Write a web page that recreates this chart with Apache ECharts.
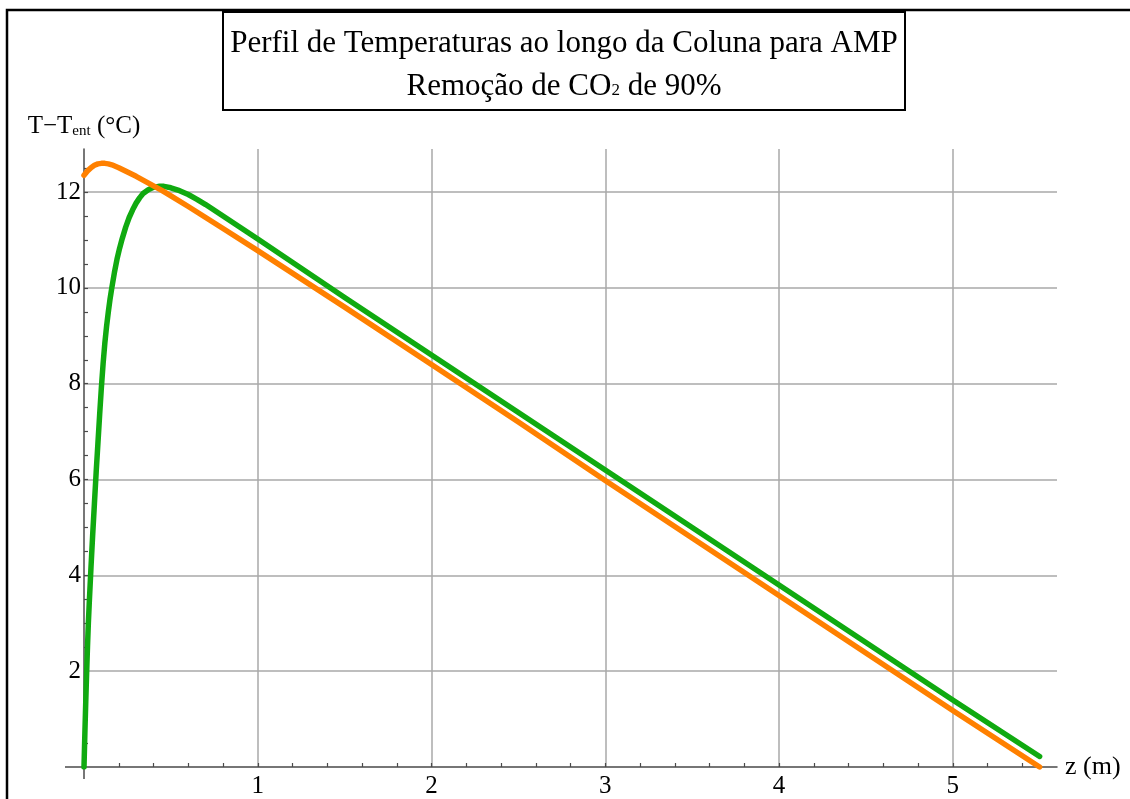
<!DOCTYPE html>
<html>
<head>
<meta charset="utf-8">
<script src="https://cdn.jsdelivr.net/npm/echarts@6/dist/echarts.min.js"></script>
<style>
html,body{margin:0;padding:0;background:#fff;}
#chart{width:1130px;height:799px;}
</style>
</head>
<body>
<div id="chart"></div>
<script>
// Data
const zGreen = [0, 0.005, 0.01, 0.015, 0.02, 0.025, 0.03, 0.04, 0.05, 0.06, 0.07, 0.08, 0.09, 0.10, 0.11, 0.12, 0.13, 0.14, 0.15, 0.16, 0.175, 0.19, 0.205, 0.22, 0.24, 0.26, 0.28, 0.30, 0.32, 0.34, 0.37, 0.40, 0.43, 0.46, 0.50, 0.55, 0.60, 0.65, 0.70, 0.75, 0.80, 0.90, 1.0, 1.5, 2.0, 2.5, 3.0, 3.5, 4.0, 4.5, 5.0, 5.5];
const tGreen = [0, 0.7, 1.35, 1.95, 2.5, 3.0, 3.4, 4.15, 4.85, 5.5, 6.15, 6.75, 7.35, 7.92, 8.42, 8.85, 9.2, 9.5, 9.77, 10.0, 10.32, 10.6, 10.83, 11.03, 11.27, 11.47, 11.63, 11.77, 11.88, 11.97, 12.05, 12.1, 12.12, 12.12, 12.09, 12.03, 11.95, 11.85, 11.74, 11.62, 11.5, 11.26, 11.02, 9.8, 8.6, 7.4, 6.2, 5.0, 3.8, 2.6, 1.4, 0.22];
const zOrange = [0, 0.02, 0.04, 0.06, 0.08, 0.10, 0.12, 0.14, 0.16, 0.18, 0.20, 0.25, 0.30, 0.35, 0.40, 0.45, 0.50, 0.60, 0.70, 0.80, 1.0, 1.5, 2.0, 2.5, 3.0, 3.5, 4.0, 4.5, 5.0, 5.5];
const tOrange = [12.35, 12.44, 12.51, 12.56, 12.59, 12.6, 12.6, 12.59, 12.57, 12.54, 12.51, 12.42, 12.33, 12.23, 12.13, 12.03, 11.92, 11.7, 11.47, 11.24, 10.78, 9.6, 8.4, 7.2, 5.98, 4.78, 3.58, 2.38, 1.18, 0.0];
const xTickLabels = ['1', '2', '3', '4', '5'];
const yTickLabels = ['2', '4', '6', '8', '10', '12'];
const titleLine1 = 'Perfil de Temperaturas ao longo da Coluna para AMP';
const titleLine2 = 'Remoção de CO{s|2} de 90%';
const yName = 'T−T{sub|ent} (°C)';
const xName = 'z (m)';

const FONT = '"Liberation Serif", "DejaVu Serif", serif';
const AXC = '#4a4a4a';
const X_MAX = 5.6, Y_MAX = 12.9;

// minor tick positions (every 0.2 on x, every 0.5 on y)
const xMinor = [], yMinor = [];
for (let i = 1; i <= 27; i++) xMinor.push(+(i * 0.2).toFixed(2));
for (let i = 1; i <= 25; i++) yMinor.push(i * 0.5);

const chart = echarts.init(document.getElementById('chart'), null, {renderer: 'canvas'});

const option = {
  backgroundColor: '#fff',
  animation: false,
  title: {
    text: titleLine1 + '\n' + titleLine2,
    left: 557,
    top: 12,
    textAlign: 'center',
    borderColor: '#000',
    borderWidth: 2,
    padding: [10, 7, 2, 7],
    textStyle: {
      fontFamily: FONT, fontSize: 31, fontWeight: 'normal', color: '#000', lineHeight: 43,
      rich: { s: { fontFamily: FONT, fontSize: 17, color: '#000', padding: [9, 0, 0, 0] } }
    }
  },
  grid: { left: 84, right: 73, top: 149, bottom: 29, containLabel: false },
  xAxis: [{
    type: 'value', min: 0, max: X_MAX, interval: 1, position: 'bottom',
    name: xName, nameLocation: 'end', nameGap: 8,
    nameTextStyle: { fontFamily: FONT, fontSize: 26, color: '#000', verticalAlign: 'middle', align: 'left' },
    axisLine: { show: true, onZero: false, lineStyle: { color: AXC, width: 1.5 } },
    axisTick: { show: false },
    axisLabel: {
      fontFamily: FONT, fontSize: 25, color: '#000', margin: 7,
      showMinLabel: false, showMaxLabel: false,
      formatter: v => (Number.isInteger(v) && v >= 1 && v <= 5 ? xTickLabels[v - 1] : '')
    },
    splitLine: { show: true, showMinLine: false, showMaxLine: false, lineStyle: { color: '#a8a8a8', width: 1.5 } }
  }, {
    type: 'value', min: 0, max: X_MAX, position: 'bottom', offset: 0,
    axisLine: { show: false },
    axisTick: { show: true, inside: true, length: 4, customValues: xMinor, lineStyle: { color: AXC, width: 1.2 } },
    axisLabel: { show: false },
    splitLine: { show: false }
  }],
  yAxis: [{
    type: 'value', min: 0, max: Y_MAX, interval: 2, position: 'left',
    name: yName, nameLocation: 'end', nameGap: 10,
    nameTextStyle: {
      fontFamily: FONT, fontSize: 25, color: '#000', align: 'center',
      rich: { sub: { fontFamily: FONT, fontSize: 15, color: '#000', padding: [9, 0, 0, 0] } }
    },
    axisLine: { show: true, onZero: false, lineStyle: { color: AXC, width: 1.5 } },
    axisTick: { show: false },
    axisLabel: {
      fontFamily: FONT, fontSize: 25, color: '#000', margin: 3,
      showMinLabel: false, showMaxLabel: false,
      formatter: v => (Number.isInteger(v) && v >= 2 && v <= 12 ? yTickLabels[v / 2 - 1] : '')
    },
    splitLine: { show: true, showMinLine: false, showMaxLine: false, lineStyle: { color: '#a8a8a8', width: 1.5 } }
  }, {
    type: 'value', min: 0, max: Y_MAX, position: 'left', offset: 0,
    axisLine: { show: false },
    axisTick: { show: true, inside: true, length: 4, customValues: yMinor, lineStyle: { color: AXC, width: 1.2 } },
    axisLabel: { show: false },
    splitLine: { show: false }
  }],
  series: [
    {
      name: 'green', type: 'line', showSymbol: false, smooth: false,
      data: zGreen.map((z, i) => [z, tGreen[i]]),
      lineStyle: { color: '#10AA10', width: 5.5, join: 'round', cap: 'round' }, itemStyle: { color: '#10AA10' }, z: 3
    },
    {
      name: 'orange', type: 'line', showSymbol: false, smooth: false,
      data: zOrange.map((z, i) => [z, tOrange[i]]),
      lineStyle: { color: '#FF8000', width: 5.5, join: 'round', cap: 'round' }, itemStyle: { color: '#FF8000' }, z: 4
    }
  ]
};
chart.setOption(option);

// decorations: outer frame and axis extensions beyond the origin
const o = chart.convertToPixel({xAxisIndex: 0, yAxisIndex: 0}, [0, 0]);
chart.setOption({
  graphic: [
    { type: 'rect', silent: true, shape: { x: 7, y: 10, width: 1300, height: 900 },
      style: { fill: 'none', stroke: '#000', lineWidth: 2.5 } },
    { type: 'line', silent: true, shape: { x1: o[0] - 19, y1: o[1], x2: o[0], y2: o[1] },
      style: { stroke: AXC, lineWidth: 1.5 } },
    { type: 'line', silent: true, shape: { x1: o[0], y1: o[1], x2: o[0], y2: o[1] + 12 },
      style: { stroke: AXC, lineWidth: 1.5 } }
  ]
});
</script>
</body>
</html>
